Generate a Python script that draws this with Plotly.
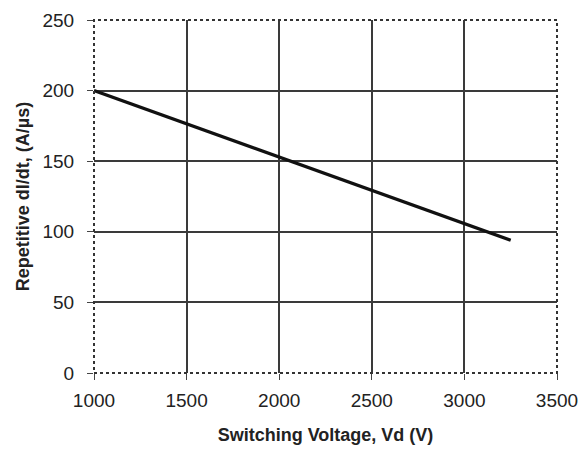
import plotly.graph_objects as go

# Repetitive dI/dt rating versus switching voltage
voltage_v = [1000, 3250]
didt_a_per_us = [200, 94]

x_ticks = [1000, 1500, 2000, 2500, 3000, 3500]
y_ticks = [0, 50, 100, 150, 200, 250]

FONT = "Liberation Sans, Arial, sans-serif"

fig = go.Figure()
fig.add_trace(go.Scatter(
    x=voltage_v, y=didt_a_per_us, mode="lines",
    line=dict(color="#111111", width=3.2), showlegend=False,
))

axis_common = dict(
    showgrid=True, gridcolor="#3a3a3a", gridwidth=1.6,
    zeroline=False, showline=False, automargin=False,
    ticks="outside", ticklen=6, tickcolor="#444444",
    tickfont=dict(family=FONT, size=19, color="#222222"),
)

fig.update_layout(
    width=586, height=453,
    margin=dict(l=94, r=29, t=20, b=80),
    paper_bgcolor="white", plot_bgcolor="white",
    xaxis=dict(
        range=[1000, 3500], tickvals=x_ticks, ticklabelstandoff=4, **axis_common,
        title=dict(text="<b>Switching Voltage, Vd (V)</b>", standoff=18,
                   font=dict(family=FONT, size=18, color="#222222")),
    ),
    yaxis=dict(
        range=[0, 250], tickvals=y_ticks, ticklabelstandoff=9, **axis_common,
        title=dict(text="<b>Repetitive dI/dt, (A/µs)</b>", standoff=8,
                   font=dict(family=FONT, size=18, color="#222222")),
    ),
)

# dotted frame around the plotting area
fig.add_shape(type="rect", xref="paper", yref="paper", x0=0, y0=0, x1=1, y1=1,
              line=dict(color="#333333", width=2, dash="dot"), layer="above")

fig.write_html("out.html")
